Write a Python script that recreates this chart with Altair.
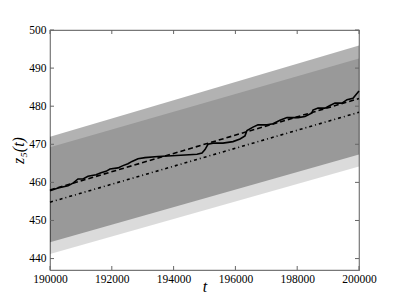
import altair as alt
import pandas as pd

# ---- data ----
t_solid = [190000, 190259, 190583, 190744, 190906, 191068, 191230, 191489, 191650, 191812,
           191942, 192200, 192362, 192524, 192654, 192848, 193074, 193495, 193948, 194369,
           194757, 194919, 195016, 195113, 195275, 195598, 195922, 196149, 196310, 196375,
           196569, 196731, 197022, 197216, 197443, 197670, 198026, 198252, 198479, 198511,
           198673, 198900, 199061, 199223, 199450, 199612, 199806, 200000]
z_solid = [457.8, 458.5, 459.1, 459.8, 460.9, 460.9, 461.6, 462.0, 462.5, 462.9,
           463.5, 463.8, 464.4, 464.9, 465.5, 466.2, 466.5, 466.8, 467.0, 467.2,
           467.4, 467.7, 468.6, 470.0, 470.3, 470.3, 470.7, 471.4, 472.2, 473.6,
           474.5, 475.1, 475.1, 475.4, 476.3, 477.0, 477.0, 477.3, 478.2, 479.0,
           479.5, 479.5, 480.2, 480.8, 480.8, 481.7, 482.1, 484.0]

t_ends = [190000, 200000]
z_dashed = [458.0, 482.0]
z_dashdot = [454.8, 478.4]
band1_lo = [441.2, 464.2]
band1_hi = [469.2, 492.5]
band2_lo = [444.3, 467.3]
band2_hi = [472.0, 495.9]

x_ticks = [190000, 192000, 194000, 196000, 198000, 200000]
y_ticks = [440, 450, 460, 470, 480, 490, 500]

W, H = 309, 240
FONT = "Liberation Serif"

xs = alt.Scale(domain=[190000, 200000], nice=False, zero=False)
ys = alt.Scale(domain=[437, 500], nice=False, zero=False)

bands = pd.DataFrame({"t": t_ends, "b1lo": band1_lo, "b1hi": band1_hi,
                      "b2lo": band2_lo, "b2hi": band2_hi,
                      "dashed": z_dashed, "dashdot": z_dashdot})
solid = pd.DataFrame({"t": t_solid, "z": z_solid})
xt = pd.DataFrame({"t": x_ticks})
yt = pd.DataFrame({"z": y_ticks})

x_axis = alt.Axis(values=x_ticks, format="d", ticks=False, domain=False, grid=False,
                  labelFont=FONT, labelFontSize=11.5, labelColor="black", labelPadding=3,
                  labelOverlap=False, labelFlush=False,
                  title="t", titleFont=FONT, titleFontStyle="italic", titleFontWeight="normal",
                  titleFontSize=16, titleColor="black",
                  titleY=21, titleBaseline="alphabetic")
y_axis = alt.Axis(values=y_ticks, format="d", ticks=False, domain=False, grid=False,
                  labelFont=FONT, labelFontSize=11.5, labelColor="black", labelPadding=4,
                  labelOverlap=False,
                  title="z₅(t)", titleFont=FONT, titleFontStyle="italic", titleFontWeight="normal",
                  titleFontSize=16, titleColor="black", titlePadding=2)


def X(field):
    return alt.X(field, scale=xs, axis=x_axis)


def Y(field):
    return alt.Y(field, scale=ys, axis=y_axis)


base = alt.Chart(bands)

b1 = base.mark_area(color="black", opacity=0.14).encode(x=X("t:Q"), y=Y("b1lo:Q"), y2="b1hi:Q")
b2 = base.mark_area(color="black", opacity=0.30).encode(x=X("t:Q"), y=Y("b2lo:Q"), y2="b2hi:Q")

l_dash = base.mark_line(color="black", strokeWidth=1.6, strokeDash=[5, 3]).encode(
    x=X("t:Q"), y=Y("dashed:Q"))
l_dd = base.mark_line(color="black", strokeWidth=1.6, strokeDash=[3, 3, 1, 3]).encode(
    x=X("t:Q"), y=Y("dashdot:Q"))
l_solid = alt.Chart(solid).mark_line(color="black", strokeWidth=1.6).encode(
    x=X("t:Q"), y=Y("z:Q"))

tick_col = "#666666"
xt_bot = alt.Chart(xt).mark_rule(color=tick_col, strokeWidth=1).encode(
    x=X("t:Q"), y=alt.value(H), y2=alt.value(H - 4))
xt_top = alt.Chart(xt).mark_rule(color=tick_col, strokeWidth=1).encode(
    x=X("t:Q"), y=alt.value(0), y2=alt.value(4))
yt_left = alt.Chart(yt).mark_rule(color=tick_col, strokeWidth=1).encode(
    y=Y("z:Q"), x=alt.value(0), x2=alt.value(4))
yt_right = alt.Chart(yt).mark_rule(color=tick_col, strokeWidth=1).encode(
    y=Y("z:Q"), x=alt.value(W), x2=alt.value(W - 4))

chart = alt.layer(b1, b2, l_dd, l_dash, l_solid, xt_bot, xt_top, yt_left, yt_right).properties(
    width=W, height=H,
    autosize=alt.AutoSizeParams(type="none"),
    padding={"left": 42, "top": 22, "right": 30, "bottom": 23},
).configure_view(stroke="#777777", strokeWidth=1.2).configure_axis(labelOverlap=False)

chart.save("out.html", embed_options={"renderer": "svg", "actions": False})
